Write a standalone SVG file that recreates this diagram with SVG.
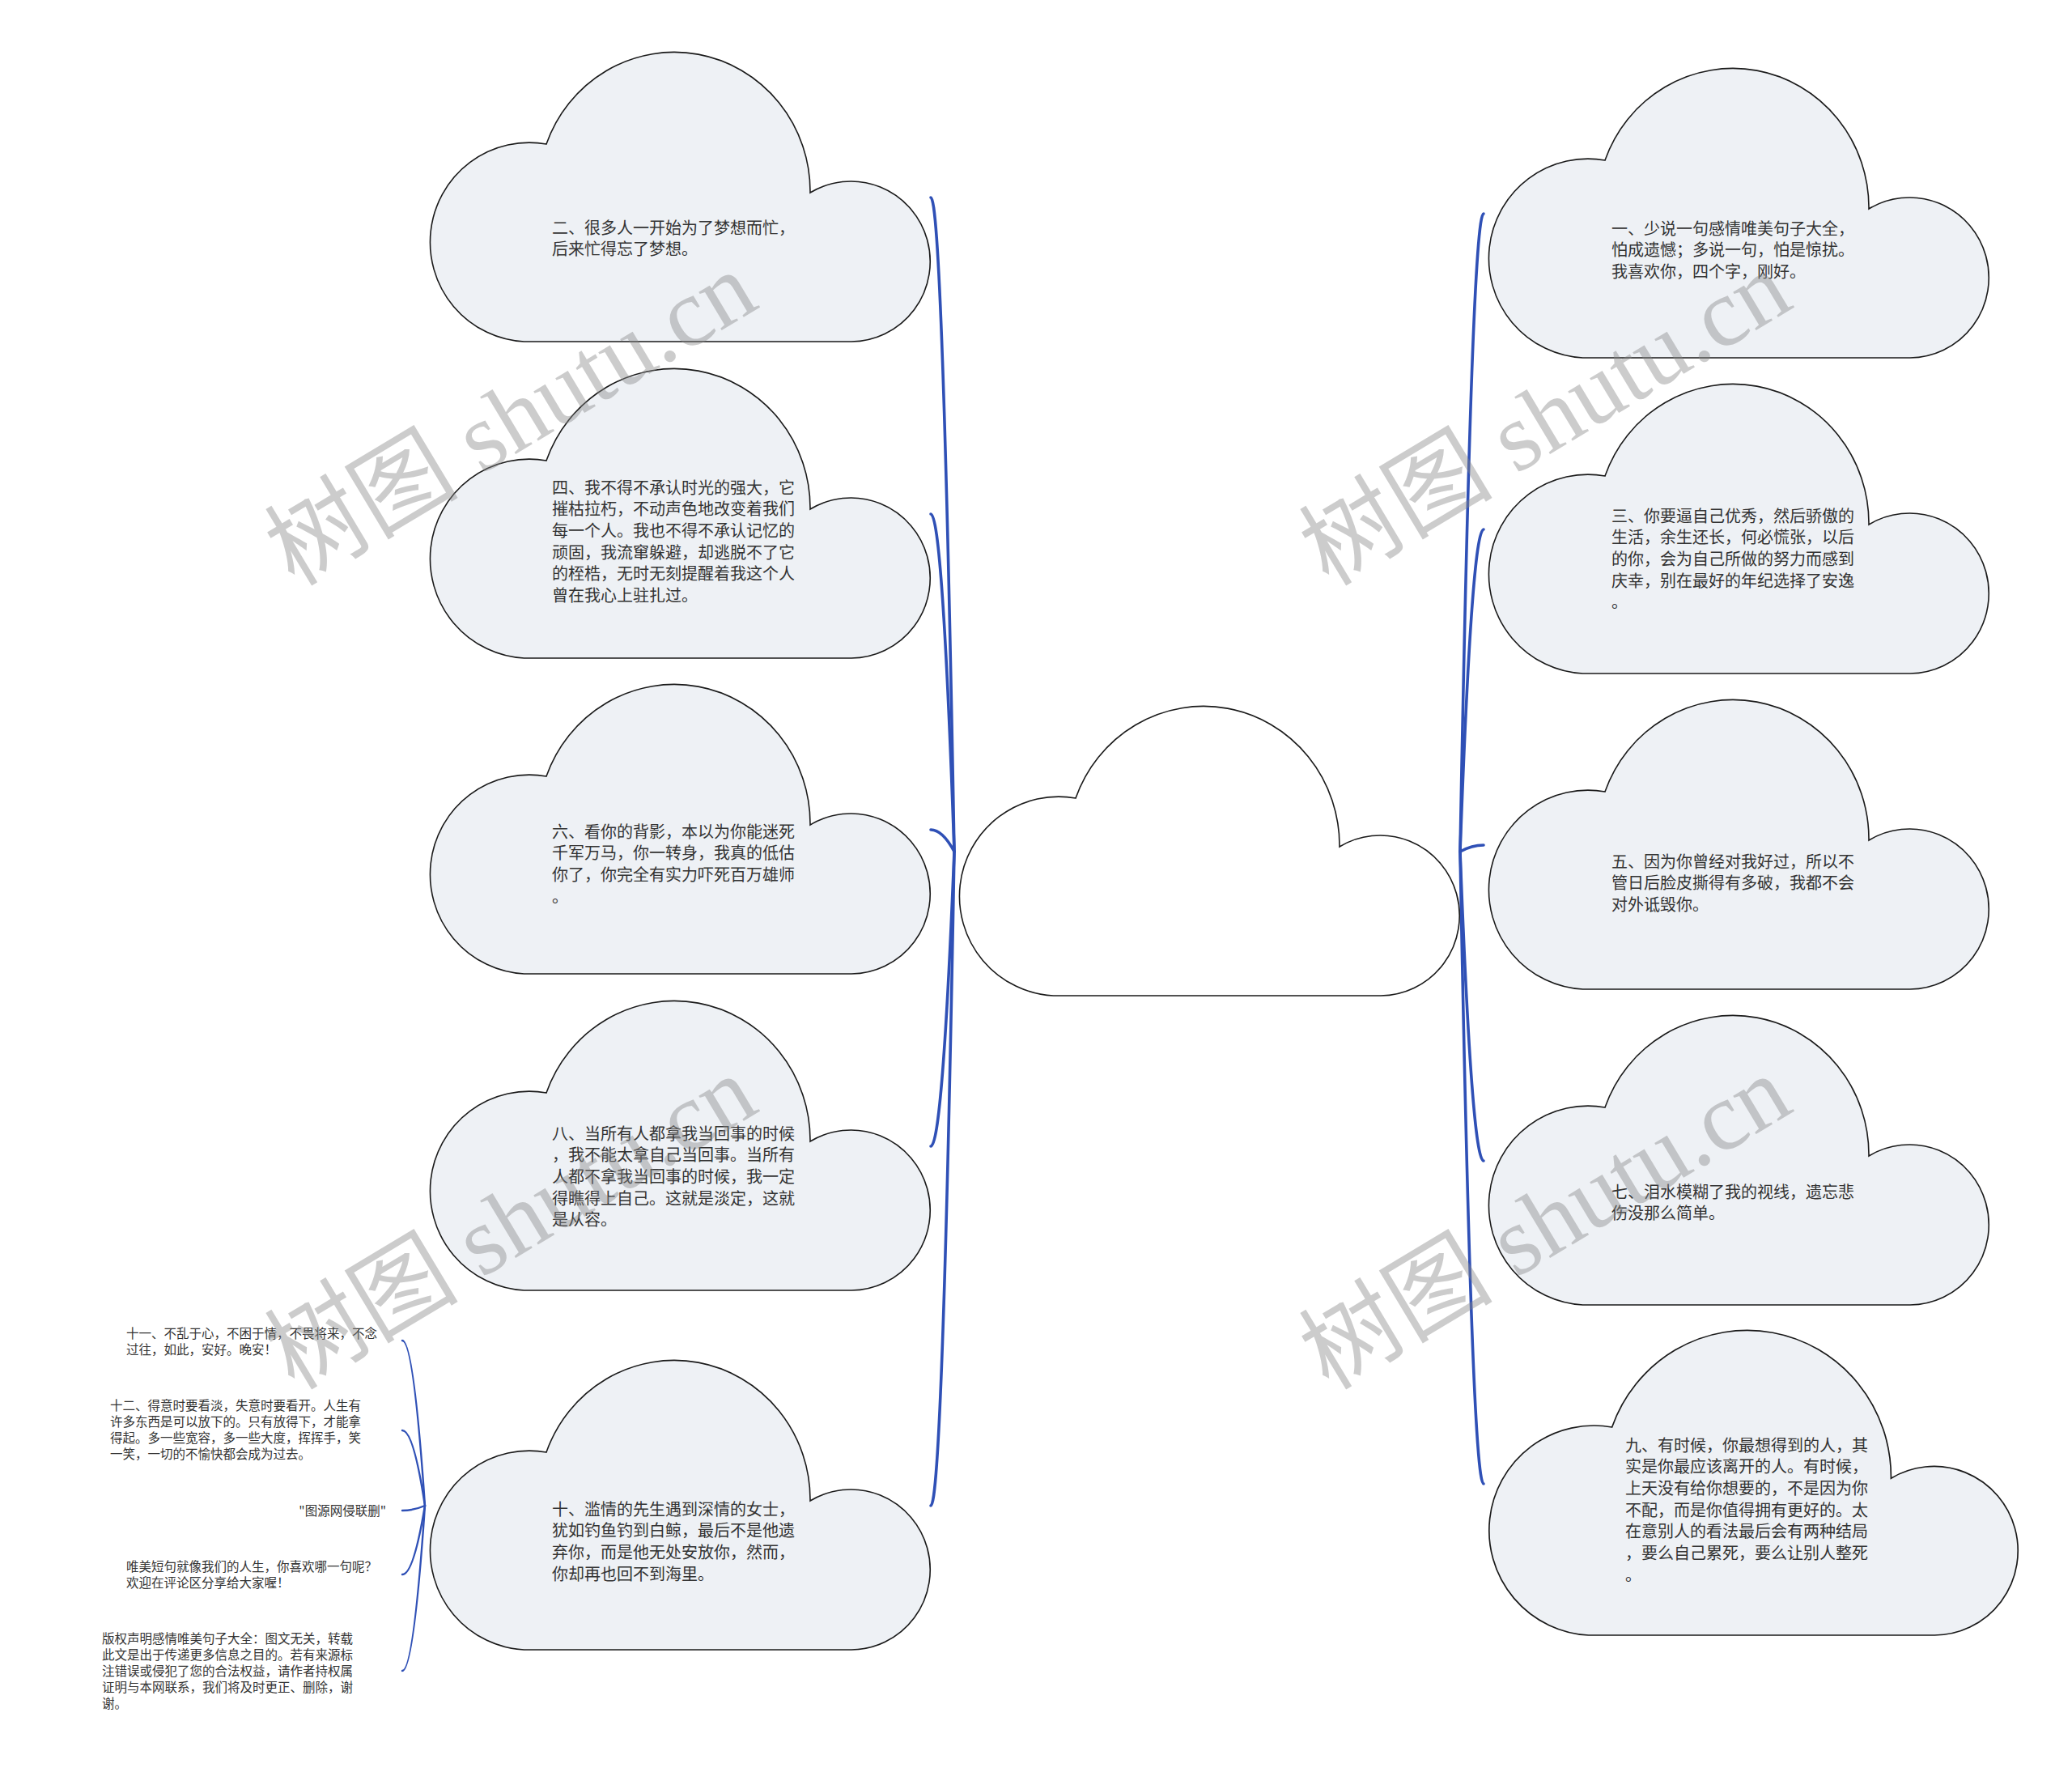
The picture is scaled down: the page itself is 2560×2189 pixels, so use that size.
<svg xmlns="http://www.w3.org/2000/svg" xmlns:xlink="http://www.w3.org/1999/xlink" width="2560" height="2189" viewBox="0 0 2560 2189">
<style>
.cloud{fill:#eef1f5;stroke:#1a1a1a;stroke-width:1.6}
.root{fill:#ffffff}
.t{font-family:"Noto Sans CJK SC","Noto Sans",sans-serif;font-size:20px;fill:#333333}
.s{font-size:15.5px}
.conn{fill:none;stroke:#2f50b6;stroke-width:3.6;stroke-linecap:round}
.sub{stroke-width:2.4}
.wm{font-family:"Liberation Serif","Noto Sans CJK SC",serif;font-size:120px;fill:#888888;opacity:0.42}
</style>
<defs>
<path id="cloudShape" d="M122.5 356 A122.5 123 0 1 1 150 112 A168 172 0 0 1 476 172 A98 99 0 1 1 527 356 Z"/>
</defs>
<rect width="2560" height="2189" fill="#ffffff"/>
<g id="connectors">
<path class="conn" d="M1150 244 Q1164.5 244 1179 1052"/>
<path class="conn" d="M1150 635 Q1164.5 635 1179 1052"/>
<path class="conn" d="M1150 1025 Q1164.5 1025 1179 1052"/>
<path class="conn" d="M1150 1416 Q1164.5 1416 1179 1052"/>
<path class="conn" d="M1150 1860 Q1164.5 1860 1179 1052"/>
<path class="conn" d="M1833 264 Q1818.5 264 1804 1052"/>
<path class="conn" d="M1833 654 Q1818.5 654 1804 1052"/>
<path class="conn" d="M1833 1044 Q1818.5 1044 1804 1052"/>
<path class="conn" d="M1833 1434 Q1818.5 1434 1804 1052"/>
<path class="conn" d="M1833 1833 Q1818.5 1833 1804 1052"/>
<path class="conn sub" d="M497 1656 Q511 1656 525 1860"/>
<path class="conn sub" d="M497 1767 Q511 1767 525 1860"/>
<path class="conn sub" d="M497 1866 Q511 1866 525 1860"/>
<path class="conn sub" d="M497 1945 Q511 1945 525 1860"/>
<path class="conn sub" d="M497 2064 Q511 2064 525 1860"/>
</g>
<g id="root">
<use xlink:href="#cloudShape" href="#cloudShape" class="cloud root" transform="translate(1179,874)"/>
</g>
<g id="n2">
<use href="#cloudShape" class="cloud" transform="translate(525,66)"/>
<text class="t" x="682" y="288.6"><tspan x="682">二、很多人一开始为了梦想而忙，</tspan><tspan x="682" dy="26.7">后来忙得忘了梦想。</tspan></text>
</g>
<g id="n4">
<use href="#cloudShape" class="cloud" transform="translate(525,457)"/>
<text class="t" x="682" y="609.6"><tspan x="682">四、我不得不承认时光的强大，它</tspan><tspan x="682" dy="26.7">摧枯拉朽，不动声色地改变着我们</tspan><tspan x="682" dy="26.7">每一个人。我也不得不承认记忆的</tspan><tspan x="682" dy="26.7">顽固，我流窜躲避，却逃脱不了它</tspan><tspan x="682" dy="26.7">的桎梏，无时无刻提醒着我这个人</tspan><tspan x="682" dy="26.7">曾在我心上驻扎过。</tspan></text>
</g>
<g id="n6">
<use href="#cloudShape" class="cloud" transform="translate(525,847)"/>
<text class="t" x="682" y="1034.6"><tspan x="682">六、看你的背影，本以为你能迷死</tspan><tspan x="682" dy="26.7">千军万马，你一转身，我真的低估</tspan><tspan x="682" dy="26.7">你了，你完全有实力吓死百万雄师</tspan><tspan x="682" dy="26.7">。</tspan></text>
</g>
<g id="n8">
<use href="#cloudShape" class="cloud" transform="translate(525,1238)"/>
<text class="t" x="682" y="1407.6"><tspan x="682">八、当所有人都拿我当回事的时候</tspan><tspan x="682" dy="26.7">，我不能太拿自己当回事。当所有</tspan><tspan x="682" dy="26.7">人都不拿我当回事的时候，我一定</tspan><tspan x="682" dy="26.7">得瞧得上自己。这就是淡定，这就</tspan><tspan x="682" dy="26.7">是从容。</tspan></text>
</g>
<g id="n10">
<use href="#cloudShape" class="cloud" transform="translate(525,1682)"/>
<text class="t" x="682" y="1871.6"><tspan x="682">十、滥情的先生遇到深情的女士，</tspan><tspan x="682" dy="26.7">犹如钓鱼钓到白鲸，最后不是他遗</tspan><tspan x="682" dy="26.7">弃你，而是他无处安放你，然而，</tspan><tspan x="682" dy="26.7">你却再也回不到海里。</tspan></text>
</g>
<g id="n1">
<use href="#cloudShape" class="cloud" transform="translate(1833,86)"/>
<text class="t" x="1991" y="289.6"><tspan x="1991">一、少说一句感情唯美句子大全，</tspan><tspan x="1991" dy="26.7">怕成遗憾；多说一句，怕是惊扰。</tspan><tspan x="1991" dy="26.7">我喜欢你，四个字，刚好。</tspan></text>
</g>
<g id="n3">
<use href="#cloudShape" class="cloud" transform="translate(1833,476)"/>
<text class="t" x="1991" y="644.6"><tspan x="1991">三、你要逼自己优秀，然后骄傲的</tspan><tspan x="1991" dy="26.7">生活，余生还长，何必慌张，以后</tspan><tspan x="1991" dy="26.7">的你，会为自己所做的努力而感到</tspan><tspan x="1991" dy="26.7">庆幸，别在最好的年纪选择了安逸</tspan><tspan x="1991" dy="26.7">。</tspan></text>
</g>
<g id="n5">
<use href="#cloudShape" class="cloud" transform="translate(1833,866)"/>
<text class="t" x="1991" y="1071.6"><tspan x="1991">五、因为你曾经对我好过，所以不</tspan><tspan x="1991" dy="26.7">管日后脸皮撕得有多破，我都不会</tspan><tspan x="1991" dy="26.7">对外诋毁你。</tspan></text>
</g>
<g id="n7">
<use href="#cloudShape" class="cloud" transform="translate(1833,1256)"/>
<text class="t" x="1991" y="1479.6"><tspan x="1991">七、泪水模糊了我的视线，遗忘悲</tspan><tspan x="1991" dy="26.7">伤没那么简单。</tspan></text>
</g>
<g id="n9">
<use href="#cloudShape" class="cloud" transform="translate(1833,1645) scale(1.0576,1.0534)"/>
<text class="t" x="2008" y="1792.6"><tspan x="2008">九、有时候，你最想得到的人，其</tspan><tspan x="2008" dy="26.7">实是你最应该离开的人。有时候，</tspan><tspan x="2008" dy="26.7">上天没有给你想要的，不是因为你</tspan><tspan x="2008" dy="26.7">不配，而是你值得拥有更好的。太</tspan><tspan x="2008" dy="26.7">在意别人的看法最后会有两种结局</tspan><tspan x="2008" dy="26.7">，要么自己累死，要么让别人整死</tspan><tspan x="2008" dy="26.7">。</tspan></text>
</g>
<g id="n11">
<text class="t s" x="156" y="1652.6"><tspan x="156">十一、不乱于心，不困于情，不畏将来，不念</tspan><tspan x="156" dy="20">过往，如此，安好。晚安！</tspan></text>
</g>
<g id="n12">
<text class="t s" x="136" y="1742"><tspan x="136">十二、得意时要看淡，失意时要看开。人生有</tspan><tspan x="136" dy="20">许多东西是可以放下的。只有放得下，才能拿</tspan><tspan x="136" dy="20">得起。多一些宽容，多一些大度，挥挥手，笑</tspan><tspan x="136" dy="20">一笑，一切的不愉快都会成为过去。</tspan></text>
</g>
<g id="n13">
<text class="t s" x="477" y="1872" text-anchor="end">"图源网侵联删"</text>
</g>
<g id="n14">
<text class="t s" x="156" y="1941"><tspan x="156">唯美短句就像我们的人生，你喜欢哪一句呢？</tspan><tspan x="156" dy="20">欢迎在评论区分享给大家喔！</tspan></text>
</g>
<g id="n15">
<text class="t s" x="126" y="2030"><tspan x="126">版权声明感情唯美句子大全：图文无关，转载</tspan><tspan x="126" dy="20">此文是出于传递更多信息之目的。若有来源标</tspan><tspan x="126" dy="20">注错误或侵犯了您的合法权益，请作者持权属</tspan><tspan x="126" dy="20">证明与本网联系，我们将及时更正、删除，谢</tspan><tspan x="126" dy="20">谢。</tspan></text>
</g>
<g id="watermarks">
<text class="wm" text-anchor="middle" transform="translate(652,552) rotate(-31)">树图 shutu.cn</text>
<text class="wm" text-anchor="middle" transform="translate(1930,552) rotate(-31)">树图 shutu.cn</text>
<text class="wm" text-anchor="middle" transform="translate(652,1545) rotate(-31)">树图 shutu.cn</text>
<text class="wm" text-anchor="middle" transform="translate(1930,1545) rotate(-31)">树图 shutu.cn</text>
</g>
</svg>
